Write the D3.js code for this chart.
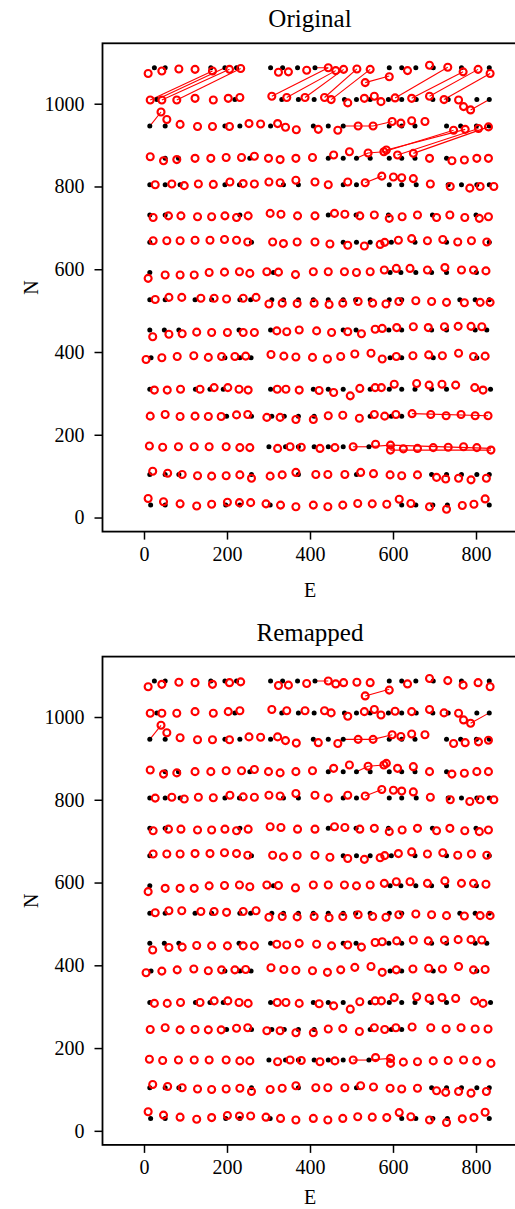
<!DOCTYPE html>
<html>
<head>
<meta charset="utf-8">
<script src="https://cdn.jsdelivr.net/npm/d3@7"></script>
<style>
  body { margin: 0; background: #fff; }
  text { font-family: "Liberation Serif", "DejaVu Serif", serif; fill: #000; }
</style>
</head>
<body>
<div id="vis"></div>
<script>
const WIDTH = 515;
const HEIGHT = 1209;

// tick values
const X_TICKS = [0, 200, 400, 600, 800];
const Y_TICKS = [0, 200, 400, 600, 800, 1000];

// reference grid rows (black dots): northing of each row, and the eastings in it
const refN = [1087, 1010, 946, 868, 804, 731, 665, 592, 526, 453, 386, 310, 245, 171, 104, 30];
const refE = [
  [25, 51, 161, 195, 223, 305, 334, 370, 412, 591, 621, 655, 697, 765, 832],
  [31, 219, 332, 372, 410, 483, 512, 545, 589, 621, 656, 696, 733, 802, 832],
  [14, 51, 195, 231, 305, 408, 444, 480, 591, 621, 653, 729, 763, 801, 832],
  [51, 83, 255, 444, 480, 512, 545, 591, 621, 653, 729],
  [14, 51, 87, 195, 230, 336, 372, 480, 512, 591, 621, 656, 733, 765, 802, 832],
  [14, 51, 231, 444, 511, 589, 695, 800],
  [14, 259, 480, 512, 545, 596, 653, 729, 832],
  [14, 312, 593, 619, 655, 693, 729, 801],
  [14, 51, 123, 163, 231, 257, 308, 336, 372, 408, 444, 480, 510, 545, 591, 621, 761, 798, 832],
  [14, 49, 84, 229, 305, 480, 511, 590, 621, 693, 729, 798, 826],
  [17, 195, 231, 258, 593, 621, 697, 802],
  [14, 124, 159, 191, 305, 408, 444, 480, 545, 591, 621, 653, 693, 729, 835],
  [199, 259, 308, 338, 372, 410, 545, 596, 621],
  [301, 341, 372, 410, 444, 480, 542],
  [14, 51, 84, 259, 372, 512, 693, 729, 765, 802, 832],
  [16, 51, 197, 231, 304, 621, 655, 696, 731, 832]
];

// measured points (red circles), [E, N]
const measured = [
  [10,1073],[43,1079],[84,1084],[123,1083],[165,1079],[206,1083],[233,1085],[324,1076],[348,1077],[392,1081],[444,1087],[462,1080],[481,1083],[513,1084],[545,1083],[533,1051],[591,1065],[635,1080],[688,1093],[732,1088],[769,1077],[805,1083],[834,1073],
  [15,1009],[43,1009],[79,1009],[123,1013],[167,1009],[203,1013],[231,1015],[308,1018],[344,1015],[388,1015],[435,1015],[451,1010],[491,1002],[531,1013],[555,1018],[571,1005],[605,1014],[645,1013],[688,1018],[723,1010],[758,1009],[770,993],[787,985],
  [41,980],[55,962],[87,950],[129,945],[165,945],[206,945],[253,952],[281,951],[322,952],[341,943],[367,937],[420,938],[467,936],[516,946],[552,946],[598,957],[619,953],[645,959],[677,957],[746,936],[774,938],[806,940],[830,944],
  [15,872],[47,862],[79,865],[123,868],[161,868],[198,870],[235,870],[266,873],[300,868],[328,865],[366,868],[406,870],[457,876],[495,884],[540,881],[578,884],[584,888],[611,876],[649,880],[688,868],[742,862],[772,864],[802,868],[830,868],
  [27,804],[67,806],[97,802],[131,806],[167,805],[207,811],[239,807],[266,806],[301,811],[328,809],[366,815],[412,811],[444,804],[491,811],[533,809],[573,825],[601,823],[621,821],[649,819],[690,806],[738,800],[785,796],[810,800],[843,800],
  [22,725],[59,729],[89,729],[129,727],[163,727],[195,729],[223,725],[251,729],[304,735],[330,733],[370,729],[412,729],[459,735],[484,733],[520,729],[555,731],[591,723],[622,727],[659,731],[705,725],[737,731],[773,725],[808,723],[830,727],
  [22,669],[55,669],[87,669],[123,670],[159,670],[194,672],[223,670],[250,666],[310,666],[336,662],[369,666],[412,666],[448,661],[491,658],[531,656],[569,660],[580,665],[613,670],[645,674],[683,669],[720,672],[756,666],[789,669],[826,666],
  [10,578],[51,586],[87,586],[121,586],[157,592],[194,593],[230,594],[255,590],[296,594],[324,593],[365,587],[408,594],[444,594],[483,594],[512,592],[545,594],[579,598],[608,602],[641,602],[683,598],[725,604],[765,598],[794,598],[824,596],
  [27,527],[60,532],[91,532],[137,530],[169,530],[199,528],[239,530],[270,532],[301,516],[333,518],[369,517],[410,518],[446,515],[479,518],[516,522],[551,518],[583,516],[614,522],[655,524],[693,522],[729,520],[772,519],[810,520],[834,520],
  [21,437],[60,443],[92,444],[127,448],[163,447],[201,447],[239,447],[266,447],[320,451],[344,449],[374,453],[416,451],[452,447],[491,449],[524,444],[557,455],[574,457],[609,459],[649,461],[685,459],[724,461],[757,462],[788,462],[814,461],
  [5,382],[43,386],[80,389],[120,391],[155,387],[187,389],[219,389],[245,390],[306,394],[337,390],[366,388],[406,387],[442,383],[474,389],[508,395],[547,397],[574,383],[608,389],[648,391],[686,393],[719,391],[758,397],[794,389],[822,390],
  [25,308],[56,308],[88,310],[135,310],[169,314],[202,314],[229,310],[251,308],[321,310],[342,310],[374,308],[422,307],[457,302],[497,294],[520,312],[557,314],[572,314],[603,322],[657,324],[687,320],[718,322],[751,320],[797,314],[817,308],
  [15,245],[51,249],[87,244],[123,245],[155,244],[186,244],[223,248],[250,249],[296,242],[328,242],[366,237],[408,237],[444,246],[479,247],[519,240],[555,249],[580,245],[607,249],[646,251],[691,249],[728,246],[764,249],[798,246],[829,246],
  [13,173],[45,170],[83,171],[121,171],[157,171],[198,171],[231,169],[255,169],[322,167],[352,171],[379,170],[424,167],[460,169],[504,171],[558,177],[594,175],[594,163],[625,166],[659,167],[697,169],[733,170],[770,171],[802,169],[836,163],
  [21,112],[57,107],[92,104],[129,101],[163,100],[198,101],[231,103],[259,95],[304,100],[333,103],[366,109],[414,104],[443,104],[484,104],[522,109],[553,106],[593,103],[621,101],[659,103],[705,97],[727,93],[758,95],[788,91],[825,95],
  [10,46],[47,38],[87,33],[127,28],[163,32],[201,37],[230,36],[257,36],[294,33],[329,30],[366,26],[408,30],[443,26],[479,30],[515,34],[550,33],[585,32],[615,44],[643,34],[688,26],[729,20],[767,29],[795,32],[822,45]
];

// visible links after remapping: [measE, measN, refE, refN]
const remapLinks = [
  [41,980,14,946],
  [533,1051,591,1067],
  [787,985,832,1010],
  [444,1087,412,1087],
  [516,946,480,946],
  [552,946,516,946],
  [598,957,552,946],
  [540,881,512,868],
  [578,884,540,881],
  [573,825,533,809],
  [504,171,542,171],
  [594,175,542,171]
];

// extra (wrong) links in the original matching
const origLinks = [
  [15,1009,165,1079],
  [31,1010,195,1087],
  [43,1009,206,1083],
  [79,1009,233,1085],
  [308,1018,444,1087],
  [344,1015,462,1080],
  [388,1015,481,1083],
  [435,1015,513,1084],
  [451,1010,545,1083],
  [605,1014,732,1088],
  [645,1013,769,1077],
  [688,1018,805,1083],
  [723,1010,834,1073],
  [578,884,746,936],
  [584,888,774,938],
  [611,876,806,940],
  [649,880,830,944],
  [646,251,829,246],
  [594,163,836,163],
  [594,175,836,167]
];

const MARGINS = {left: 102.5, top: 43.3};
const VIS_WIDTH = 415;
const VIS_HEIGHT = 488.3;
const PANEL_SHIFT = 613.3;

const X_SCALE = d3.scaleLinear().domain([-100, 900]).range([0, VIS_WIDTH]);
const Y_SCALE = d3.scaleLinear().domain([-34, 1146]).range([VIS_HEIGHT, 0]);

const refPts = [];
refE.forEach((row, i) => row.forEach(e => refPts.push([e, refN[i]])));

const svg = d3.select("#vis")
  .append("svg")
    .attr("width", WIDTH)
    .attr("height", HEIGHT);

function drawPanel(offsetY, title, links, id, xLabelY) {
  const g = svg.append("g")
    .attr("transform", `translate(${MARGINS.left}, ${MARGINS.top + offsetY})`);

  g.append("clipPath").attr("id", id)
    .append("rect").attr("width", VIS_WIDTH).attr("height", VIS_HEIGHT);

  const plot = g.append("g").attr("clip-path", `url(#${id})`);

  plot.selectAll("line.link")
    .data(links)
    .enter()
    .append("line")
      .attr("x1", d => X_SCALE(d[0]))
      .attr("y1", d => Y_SCALE(d[1]))
      .attr("x2", d => X_SCALE(d[2]))
      .attr("y2", d => Y_SCALE(d[3]))
      .attr("stroke", "#ff0000")
      .attr("stroke-width", 1.1);

  plot.selectAll("circle.ref")
    .data(refPts)
    .enter()
    .append("circle")
      .attr("cx", d => X_SCALE(d[0]))
      .attr("cy", d => Y_SCALE(d[1]))
      .attr("r", 2.5)
      .attr("fill", "#000");

  plot.selectAll("circle.meas")
    .data(measured)
    .enter()
    .append("circle")
      .attr("cx", d => X_SCALE(d[0]))
      .attr("cy", d => Y_SCALE(d[1]))
      .attr("r", 3.5)
      .attr("fill", "none")
      .attr("stroke", "#ff0000")
      .attr("stroke-width", 2.1);

  // axes
  const xAxis = g.append("g")
    .attr("transform", `translate(0, ${VIS_HEIGHT})`)
    .call(d3.axisBottom(X_SCALE).tickValues(X_TICKS).tickSize(8).tickPadding(7).tickFormat(d3.format("d")));
  const yAxis = g.append("g")
    .call(d3.axisLeft(Y_SCALE).tickValues(Y_TICKS).tickSize(8).tickPadding(10).tickFormat(d3.format("d")));

  [xAxis, yAxis].forEach(a => {
    a.select(".domain").remove();
    a.selectAll(".tick line").attr("stroke", "#000").attr("stroke-width", 1.5);
    a.selectAll(".tick text")
      .attr("font-family", "Liberation Serif, DejaVu Serif, serif")
      .attr("font-size", 20)
      .attr("fill", "#000");
  });
  xAxis.selectAll(".tick text").attr("dy", "0.71em");

  g.append("rect")
    .attr("width", VIS_WIDTH)
    .attr("height", VIS_HEIGHT)
    .attr("fill", "none")
    .attr("stroke", "#000")
    .attr("stroke-width", 1.8);

  g.append("text")
    .attr("x", VIS_WIDTH / 2)
    .attr("y", -16)
    .attr("text-anchor", "middle")
    .attr("font-size", 25)
    .text(title);

  g.append("text")
    .attr("x", VIS_WIDTH / 2)
    .attr("y", VIS_HEIGHT + xLabelY)
    .attr("text-anchor", "middle")
    .attr("font-size", 20)
    .text("E");

  g.append("text")
    .attr("transform", `translate(${37.5 - MARGINS.left}, ${VIS_HEIGHT / 2}) rotate(-90)`)
    .attr("text-anchor", "middle")
    .attr("font-size", 20)
    .text("N");
}

drawPanel(0, "Original", remapLinks.concat(origLinks), "clip1", 65);
drawPanel(PANEL_SHIFT, "Remapped", remapLinks, "clip2", 59.5);
</script>
</body>
</html>
